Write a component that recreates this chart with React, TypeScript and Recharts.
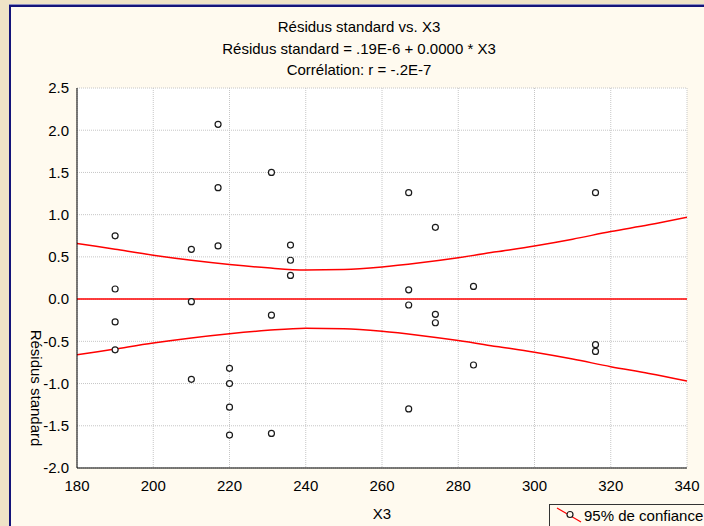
import {
  CartesianGrid,
  ComposedChart,
  Line,
  Scatter,
  XAxis,
  YAxis,
} from 'recharts';

// observed X3 values and their standardized residuals (paired by index)
const x3Values = [
  190, 190, 190, 190,
  210, 210, 210,
  217, 217, 217,
  220, 220, 220, 220,
  231, 231, 231,
  236, 236, 236,
  267, 267, 267, 267,
  274, 274, 274,
  284, 284,
  316, 316, 316,
];
const residuals = [
  0.75, 0.12, -0.27, -0.6,
  0.59, -0.03, -0.95,
  2.07, 1.32, 0.63,
  -0.82, -1.0, -1.28, -1.61,
  1.5, -0.19, -1.59,
  0.64, 0.46, 0.28,
  1.26, 0.11, -0.07, -1.3,
  0.85, -0.18, -0.28,
  0.15, -0.78,
  1.26, -0.54, -0.62,
];

// fitted line and 95% confidence band
const fitX = [180, 340];
const fitY = [0, 0];
const bandX = [180, 190, 200, 210, 220, 230, 240, 250, 260, 270, 280, 290, 300, 310, 320, 330, 340];
const bandUpper = [0.66, 0.59, 0.52, 0.46, 0.41, 0.37, 0.345, 0.35, 0.38, 0.43, 0.49, 0.56, 0.63, 0.71, 0.8, 0.88, 0.97];
const bandLower = [-0.66, -0.59, -0.52, -0.46, -0.41, -0.37, -0.345, -0.35, -0.38, -0.43, -0.49, -0.56, -0.63, -0.71, -0.8, -0.88, -0.97];

const xTicks = [180, 200, 220, 240, 260, 280, 300, 320, 340];
const yTicks = [-2.0, -1.5, -1.0, -0.5, 0.0, 0.5, 1.0, 1.5, 2.0, 2.5];

const titleLines = [
  'Résidus standard vs. X3',
  'Résidus standard = .19E-6 + 0.0000 * X3',
  'Corrélation: r = -.2E-7',
];

const FONT = '"Liberation Sans", Arial, sans-serif';
const NAVY = '#14147a';
const CREAM = '#fffaef';

const points = x3Values.map((x, i) => ({ x, y: residuals[i] }));
const fitRows = fitX.map((x, i) => ({ x, fit: fitY[i] }));
const bandRows = bandX.map((x, i) => ({ x, upper: bandUpper[i], lower: bandLower[i] }));

function Dot(props: any) {
  return <circle cx={props.cx} cy={props.cy} r={3} fill="#fff" stroke="#1a1a1a" strokeWidth={1.2} />;
}

export default function App() {
  return (
    <div
      style={{
        position: 'absolute',
        left: 0,
        top: 0,
        width: 704,
        height: 526,
        overflow: 'hidden',
        background: '#efe3c7',
        fontFamily: FONT,
      }}
    >
      <div
        style={{
          position: 'absolute',
          left: 9,
          top: 5,
          width: 720,
          height: 540,
          background: CREAM,
          borderLeft: `2px solid ${NAVY}`,
          borderTop: `2px solid ${NAVY}`,
          boxShadow: '0 -1px 0 #8c8cc0',
        }}
      />

      <div style={{ position: 'absolute', left: 0, top: 0 }}>
        <ComposedChart width={704} height={526} margin={{ top: 88, right: 17, left: 0, bottom: 0 }}>
          <CartesianGrid fill="#fff" stroke="#c6c6c6" strokeDasharray="1 1" />
          <XAxis
            type="number"
            dataKey="x"
            domain={[180, 340]}
            ticks={xTicks}
            allowDataOverflow
            height={58}
            tickLine={false}
            tickMargin={6}
            axisLine={{ stroke: '#000' }}
            tick={{ fill: '#000', fontSize: 15, fontFamily: FONT }}
          />
          <XAxis
            xAxisId="top"
            orientation="top"
            type="number"
            domain={[180, 340]}
            height={0}
            tick={false}
            tickLine={false}
            axisLine={{ stroke: '#000' }}
          />
          <YAxis
            type="number"
            domain={[-2, 2.5]}
            ticks={yTicks}
            allowDataOverflow
            width={77}
            tickLine={false}
            axisLine={{ stroke: '#000' }}
            tickFormatter={(v: number) => v.toFixed(1)}
            tick={{ fill: '#000', fontSize: 15, fontFamily: FONT }}
          />
          <YAxis
            yAxisId="right"
            orientation="right"
            type="number"
            domain={[-2, 2.5]}
            width={0}
            tick={false}
            tickLine={false}
            axisLine={{ stroke: '#000' }}
          />
          <Line
            data={bandRows}
            dataKey="upper"
            type="monotone"
            stroke="#ff0000"
            strokeWidth={1.5}
            dot={false}
            activeDot={false}
            isAnimationActive={false}
          />
          <Line
            data={bandRows}
            dataKey="lower"
            type="monotone"
            stroke="#ff0000"
            strokeWidth={1.5}
            dot={false}
            activeDot={false}
            isAnimationActive={false}
          />
          <Line
            data={fitRows}
            dataKey="fit"
            type="linear"
            stroke="#ff0000"
            strokeWidth={1.5}
            dot={false}
            activeDot={false}
            isAnimationActive={false}
          />
          <Scatter data={points} dataKey="y" shape={Dot} isAnimationActive={false} />
        </ComposedChart>
      </div>

      <svg
        width={704}
        height={526}
        style={{ position: 'absolute', left: 0, top: 0, pointerEvents: 'none' }}
        fontFamily={FONT}
        fontSize={15}
        fill="#000"
      >
        {titleLines.map((t, i) => (
          <text key={t} x={359} y={32 + i * 21.5} textAnchor="middle">
            {t}
          </text>
        ))}
        <text x={382} y={519} textAnchor="middle">
          X3
        </text>
        <text x={31} y={388} textAnchor="middle" transform="rotate(90 31 388)">
          Résidus standard
        </text>
      </svg>

      <div
        style={{
          position: 'absolute',
          left: 549,
          top: 504,
          width: 200,
          height: 40,
          border: '1px solid #333',
          background: CREAM,
        }}
      >
        <svg width={200} height={40} style={{ position: 'absolute', left: 0, top: 0 }}>
          <line x1={7} y1={3} x2={31} y2={17} stroke="#ff0000" strokeWidth={1.2} />
          <circle cx={20} cy={9.5} r={3} fill={CREAM} stroke="#1a1a1a" strokeWidth={1.2} />
          <text x={34} y={16} fontFamily={FONT} fontSize={15} fill="#000">
            95% de confiance
          </text>
        </svg>
      </div>
    </div>
  );
}
